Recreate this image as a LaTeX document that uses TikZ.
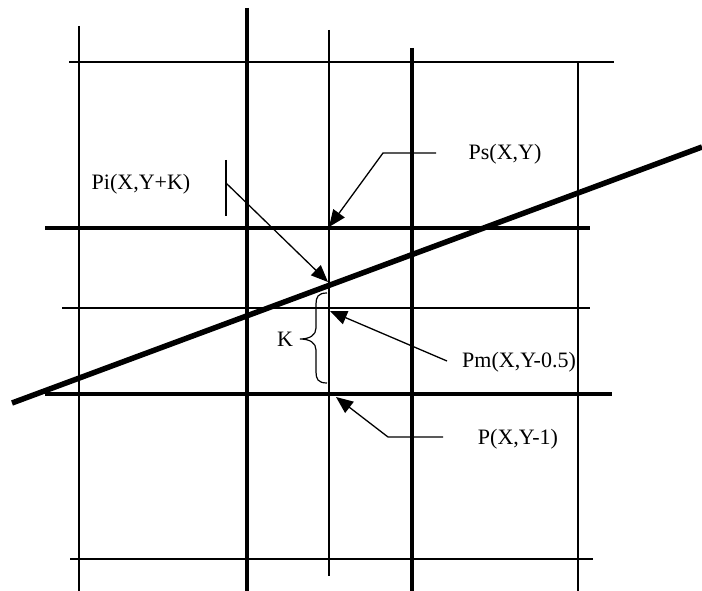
\documentclass[tikz,border=0pt]{standalone}
\usepackage{fontspec}
\setmainfont{Liberation Serif}
\usetikzlibrary{arrows.meta}
\begin{document}
\begin{tikzpicture}[x=1pt,y=-1pt,
  thin grid/.style={line width=1.2pt},
  thick grid/.style={line width=3.6pt},
  scanline/.style={line width=5.5pt},
  pointer/.style={line width=1.3pt,-{Triangle[length=17pt,width=14pt]}},
  lbl/.style={font=\fontsize{22}{26}\selectfont,inner sep=0pt}]
\useasboundingbox (0,0) rectangle (702,591);
% thin grid lines
\draw[thin grid] (79,26) -- (79,591);
\draw[thin grid] (329,30) -- (329,576);
\draw[thin grid] (578,62) -- (578,591);
\draw[thin grid] (69,62) -- (614,62);
\draw[thin grid] (62,308) -- (590,308);
\draw[thin grid] (70,559) -- (593,559);
% thick grid lines
\draw[thick grid] (247,8) -- (247,591);
\draw[thick grid] (412,48) -- (412,591);
\draw[thick grid] (45,228) -- (590,228);
\draw[thick grid] (45,394) -- (612,394);
% the line being drawn
\draw[scanline] (12,403) -- (702,147);
% labels
\node[lbl] (ps) at (505,154) {Ps(X,Y)};
\node[lbl] (pi) at (141,184) {Pi(X,Y+K)};
\node[lbl,anchor=west] (pm) at (462,362) {Pm(X,Y-0.5)};
\node[lbl] (p) at (518,439) {P(X,Y-1)};
\node[lbl] (k) at (285,339) {K};
% pointer anchors
\coordinate (psA) at (436,153);
\coordinate (psB) at (383,153);
\coordinate (psT) at (329,227);
\coordinate (piA) at (226,160);
\coordinate (piB) at (226,216);
\coordinate (piC) at (226,183);
\coordinate (piT) at (328,282);
\coordinate (pmA) at (447,361);
\coordinate (pmT) at (330,311);
\coordinate (pA) at (443,437);
\coordinate (pB) at (388,437);
\coordinate (pT) at (336,397);
% pointers
\draw[pointer] (psA) -- (psB) -- (psT);
\draw[line width=1.3pt] (piA) -- (piB);
\draw[pointer] (piC) -- (piT);
\draw[pointer] (pmA) -- (pmT);
\draw[pointer] (pA) -- (pB) -- (pT);
% brace
\coordinate (bTop) at (327,293);
\coordinate (bTip) at (300,339);
\coordinate (bBot) at (327,383);
\draw[line width=1.2pt] (bTop) .. controls (318,293) and (316,297) .. (316,304)
  -- (316,328) .. controls (316,335) and (310,339) .. (bTip)
  .. controls (310,339) and (316,343) .. (316,350)
  -- (316,372) .. controls (316,379) and (318,383) .. (bBot);
\end{tikzpicture}
\end{document}
